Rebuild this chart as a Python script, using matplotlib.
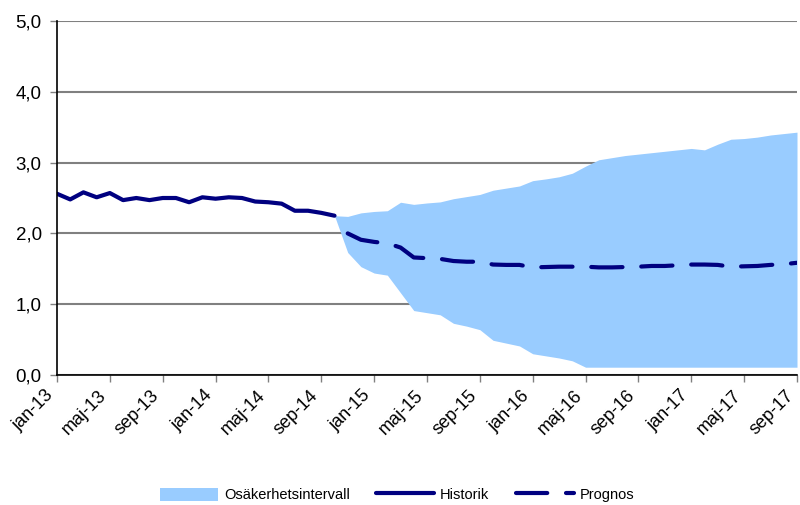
#!/usr/bin/env python3
import matplotlib.pyplot as plt
import matplotlib.transforms as mtrans
import numpy as np

plt.rcParams['font.family'] = ['Liberation Sans', 'DejaVu Sans']

# month index 0 = jan-13, 56 = sep-17
tick_labels = ["jan-13", "maj-13", "sep-13", "jan-14", "maj-14", "sep-14",
               "jan-15", "maj-15", "sep-15", "jan-16", "maj-16", "sep-16",
               "jan-17", "maj-17", "sep-17"]

# Historik: jan-13 .. okt-14
historik = [2.56, 2.48, 2.58, 2.51, 2.57, 2.47, 2.50, 2.47, 2.50, 2.50, 2.44,
            2.51, 2.49, 2.51, 2.50, 2.45, 2.44, 2.42, 2.32, 2.32, 2.29, 2.25]

# Prognos: nov-14 .. sep-17
prognos = [2.00, 1.91, 1.88, 1.86, 1.80, 1.66, 1.65, 1.64, 1.61, 1.60, 1.60,
           1.56, 1.555, 1.555, 1.52, 1.525, 1.53, 1.53, 1.53, 1.52, 1.52,
           1.525, 1.53, 1.54, 1.54, 1.55, 1.56, 1.56, 1.555, 1.53, 1.535,
           1.54, 1.555, 1.565, 1.585]

# Osäkerhetsintervall: okt-14 .. sep-17
band_upper = [2.25, 2.24, 2.29, 2.31, 2.32, 2.44, 2.41, 2.43, 2.445, 2.49,
              2.52, 2.55, 2.61, 2.64, 2.67, 2.745, 2.77, 2.80, 2.85, 2.95,
              3.04, 3.07, 3.10, 3.12, 3.14, 3.16, 3.18, 3.20, 3.18, 3.26,
              3.33, 3.34, 3.36, 3.39, 3.41, 3.43]
band_lower = [2.25, 1.73, 1.53, 1.44, 1.41, 1.16, 0.91, 0.88, 0.85, 0.73,
              0.69, 0.64, 0.49, 0.45, 0.41, 0.30, 0.27, 0.24, 0.20, 0.11,
              0.11, 0.11, 0.11, 0.11, 0.11, 0.11, 0.11, 0.11, 0.11, 0.11,
              0.11, 0.11, 0.11, 0.11, 0.11, 0.11]

NAVY = "#000080"
BLUE = "#99CCFF"
GRID = "#808080"


def main() -> None:
    fig = plt.figure(figsize=(8.0, 5.05), dpi=100)
    ax = fig.add_axes([57 / 800, 1 - 375 / 505, 740 / 800, 354 / 505])

    x_hist = np.arange(len(historik))
    x_prog = np.arange(len(prognos)) + len(historik)
    x_band = np.arange(len(band_upper)) + len(historik) - 1

    ax.fill_between(x_band, band_lower, band_upper, color=BLUE, lw=0,
                    label="Osäkerhetsintervall", zorder=2)
    ax.plot(x_hist, historik, color=NAVY, lw=3, solid_capstyle="round",
            label="Historik", zorder=3)
    ax.plot(x_prog, prognos, color=NAVY, lw=3, dashes=(7.5, 4.5),
            dash_capstyle="round", label="Prognos", zorder=3)

    ax.set_xlim(0, 56)
    ax.set_ylim(0, 5)
    ax.set_yticks(np.arange(0, 5.01, 1.0))
    ax.set_yticklabels([f"{v:.1f}".replace(".", ",") for v in
                        np.arange(0, 5.01, 1.0)], fontsize=13.5)
    ax.set_xticks(np.arange(0, 57, 4))
    ax.set_xticklabels(tick_labels, fontsize=13, rotation=45, ha="right",
                       va="center", rotation_mode="anchor")

    ax.yaxis.grid(True, color=GRID, lw=1.5, zorder=1)
    ax.set_axisbelow(True)
    for side in ("top", "right"):
        ax.spines[side].set_visible(False)
    for side in ("left", "bottom"):
        ax.spines[side].set_color("black")
        ax.spines[side].set_linewidth(1.2)
        ax.spines[side].set_zorder(4)
    ax.tick_params(axis="both", color=GRID, length=5, width=1)
    ax.tick_params(axis="y", pad=6)
    ax.tick_params(axis="x", pad=8)

    # nudge rotated labels a little left so the last one stays inside
    # (after tick_params, which resets the label transforms)
    shift = mtrans.ScaledTranslation(-6 / 100, 0, fig.dpi_scale_trans)
    for tick in ax.xaxis.get_major_ticks():
        tick.label1.set_transform(tick.label1.get_transform() + shift)

    fig.legend(loc="center", bbox_to_anchor=(397 / 800, 1 - 495 / 505),
               ncol=3, frameon=False, fontsize=10.5, handlelength=4,
               handleheight=1.0, columnspacing=1.8, handletextpad=0.4)

    fig.savefig("out.png", dpi=100)


if __name__ == "__main__":
    main()
